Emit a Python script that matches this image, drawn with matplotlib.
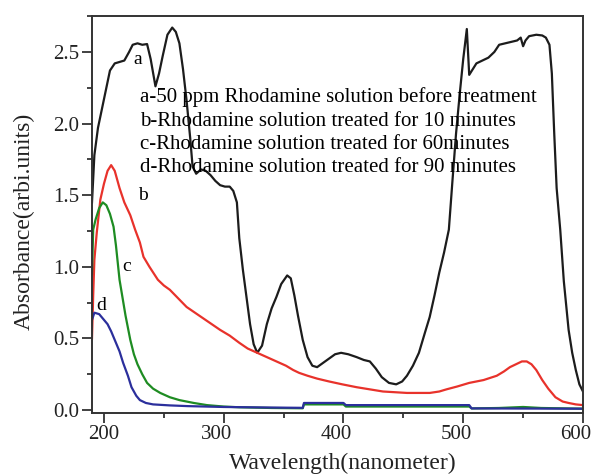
import matplotlib
matplotlib.use("Agg")
import matplotlib.pyplot as plt
import matplotlib.transforms as mtransforms
from matplotlib.ticker import MultipleLocator

plt.rcParams['font.family'] = ['Liberation Serif', 'DejaVu Serif']

# curve a: 50 ppm before treatment
wl_a = [190, 192, 195, 200, 205, 209, 213, 217, 221, 224, 228, 232, 236, 239, 243, 246, 249,
        253, 257, 260, 263, 266, 269, 272, 274, 277, 281, 285, 289, 293, 297, 301, 305, 308,
        311, 313, 316, 319, 322, 325, 328, 332, 336, 340, 344, 348, 353, 356, 359, 362, 366,
        370, 374, 378, 383, 388, 393, 398, 404, 411, 417, 422, 427, 432, 438, 444, 449, 453,
        458, 463, 468, 472, 476, 480, 484, 488, 491, 494, 497, 500, 503, 505, 508, 511, 516,
        521, 526, 530, 535, 540, 545, 548, 550, 552, 555, 561, 566, 569, 572, 574, 576, 578,
        581, 584, 588, 591, 594, 597, 600]
abs_a = [1.45, 1.78, 1.97, 2.17, 2.37, 2.42, 2.43, 2.44, 2.50, 2.55, 2.56, 2.55, 2.555, 2.45,
         2.26, 2.35, 2.47, 2.62, 2.67, 2.64, 2.56, 2.38, 2.16, 1.90, 1.70, 1.65, 1.68, 1.67,
         1.64, 1.60, 1.57, 1.56, 1.56, 1.53, 1.45, 1.20, 0.98, 0.79, 0.60, 0.46, 0.40, 0.45,
         0.60, 0.71, 0.79, 0.88, 0.94, 0.92, 0.80, 0.66, 0.49, 0.37, 0.31, 0.30, 0.33, 0.36,
         0.39, 0.40, 0.39, 0.37, 0.35, 0.34, 0.29, 0.23, 0.19, 0.18, 0.20, 0.24, 0.31, 0.40,
         0.54, 0.65, 0.80, 0.96, 1.10, 1.26, 1.60, 1.93, 2.20, 2.45, 2.66, 2.34, 2.38, 2.42,
         2.44, 2.46, 2.50, 2.55, 2.56, 2.57, 2.58, 2.60, 2.54, 2.58, 2.61, 2.62, 2.615, 2.60,
         2.55, 2.35, 1.93, 1.55, 1.26, 0.90, 0.56, 0.40, 0.28, 0.18, 0.13]

# curve b: 10 minutes
wl_b = [190, 191, 192, 194, 197, 200, 203, 206, 209, 213, 217, 222, 226, 230, 233, 238, 245,
        250, 255, 262, 269, 276, 283, 290, 297, 305, 313, 320, 328, 336, 344, 352, 358, 363,
        370, 378, 388, 399, 411, 422, 433, 443, 453, 463, 472, 480, 486, 495, 505, 517, 528,
        534, 539, 544, 549, 553, 557, 561, 566, 571, 577, 583, 588, 594, 600]
abs_b = [0.50, 0.80, 1.05, 1.24, 1.47, 1.58, 1.67, 1.71, 1.67, 1.55, 1.45, 1.36, 1.26, 1.17,
         1.07, 1.00, 0.91, 0.87, 0.84, 0.78, 0.72, 0.68, 0.64, 0.60, 0.56, 0.52, 0.47, 0.43,
         0.40, 0.37, 0.34, 0.31, 0.28, 0.26, 0.24, 0.22, 0.20, 0.18, 0.16, 0.145, 0.13, 0.125,
         0.12, 0.12, 0.12, 0.13, 0.145, 0.165, 0.19, 0.21, 0.24, 0.27, 0.30, 0.32, 0.34, 0.34,
         0.32, 0.28, 0.21, 0.15, 0.09, 0.06, 0.05, 0.04, 0.035]

# curve c: 60 minutes
wl_c = [190, 191, 193, 196, 199, 202, 205, 208, 210, 213, 216, 218, 222, 225, 228, 232, 236,
        241, 247, 255, 263, 275, 286, 300, 313, 340, 366, 367, 400, 402, 505, 507, 530, 550,
        565, 600]
abs_c = [0.95, 1.26, 1.33, 1.41, 1.45, 1.43, 1.37, 1.28, 1.15, 0.91, 0.76, 0.66, 0.49, 0.39,
         0.32, 0.25, 0.19, 0.15, 0.12, 0.09, 0.07, 0.05, 0.035, 0.025, 0.02, 0.015, 0.013,
         0.04, 0.04, 0.025, 0.025, 0.012, 0.015, 0.022, 0.015, 0.01]

# curve d: 90 minutes
wl_d = [190, 192, 196, 200, 203, 206, 209, 213, 216, 220, 223, 227, 230, 235, 241, 255, 270,
        300, 340, 366, 367, 400, 402, 505, 507, 600]
abs_d = [0.63, 0.68, 0.67, 0.63, 0.60, 0.55, 0.49, 0.41, 0.33, 0.24, 0.16, 0.10, 0.07, 0.05,
         0.04, 0.033, 0.028, 0.022, 0.018, 0.016, 0.05, 0.05, 0.035, 0.035, 0.012, 0.01]

legend_lines = [
    "a-50 ppm Rhodamine solution before treatment",
    "b-Rhodamine solution treated for 10 minutes",
    "c-Rhodamine solution treated for 60minutes",
    "d-Rhodamine solution treated for 90 minutes",
]

fig = plt.figure(figsize=(5.95, 4.74), dpi=100)
ax = fig.add_axes([0.1546, 0.1287, 0.8252, 0.8373])

ax.plot(wl_a, abs_a, color='#1c1c1c', lw=1.6)
ax.plot(wl_b, abs_b, color='#e8322b', lw=1.6)
ax.plot(wl_c, abs_c, color='#1e8c22', lw=1.6)
ax.plot(wl_d, abs_d, color='#2b2f9c', lw=1.6)

# curve letters
ax.text(228, 2.45, 'a', fontsize=14, ha='center', va='center')
ax.text(232.5, 1.50, 'b', fontsize=14, ha='center', va='center')
ax.text(219, 1.0, 'c', fontsize=14, ha='center', va='center')
ax.text(198, 0.73, 'd', fontsize=14, ha='center', va='center')

for i, line in enumerate(legend_lines):
    ax.text(0.098, 0.783 - i * 0.0587, line, transform=ax.transAxes,
            fontsize=15, ha='left', va='baseline')

ax.set_xlim(190, 600)
ax.set_ylim(-0.02, 2.75)
ax.xaxis.set_major_locator(MultipleLocator(100))
ax.xaxis.set_minor_locator(MultipleLocator(50))
ax.yaxis.set_major_locator(MultipleLocator(0.5))
ax.yaxis.set_minor_locator(MultipleLocator(0.25))
ax.yaxis.set_major_formatter(plt.FormatStrFormatter('%.1f'))

ax.tick_params(which='both', direction='out', labelsize=15, colors='#333333',
               labelcolor='#222222')
ax.tick_params(which='major', length=7, width=1.3, pad=2)
ax.tick_params(which='minor', length=3.5, width=1.3)
for s in ax.spines.values():
    s.set_color('#333333')
    s.set_linewidth(1.4)

# x tick labels from 300 on sit a little left of their ticks in the original
fig.canvas.draw()
shift = mtransforms.ScaledTranslation(-7 / 100, 0, fig.dpi_scale_trans)
for tick in ax.xaxis.get_major_ticks():
    if tick.get_loc() >= 250:
        tick.label1.set_transform(tick.label1.get_transform() + shift)

ax.set_xlabel('Wavelength(nanometer)', fontsize=17, color='#222222', va='center')
ax.xaxis.set_label_coords(0.51, -0.126)
ax.set_ylabel('Absorbance(arbi.units)', fontsize=17, color='#222222', va='center')
ax.yaxis.set_label_coords(-0.138, 0.482)

fig.savefig('out.png', dpi=100)
